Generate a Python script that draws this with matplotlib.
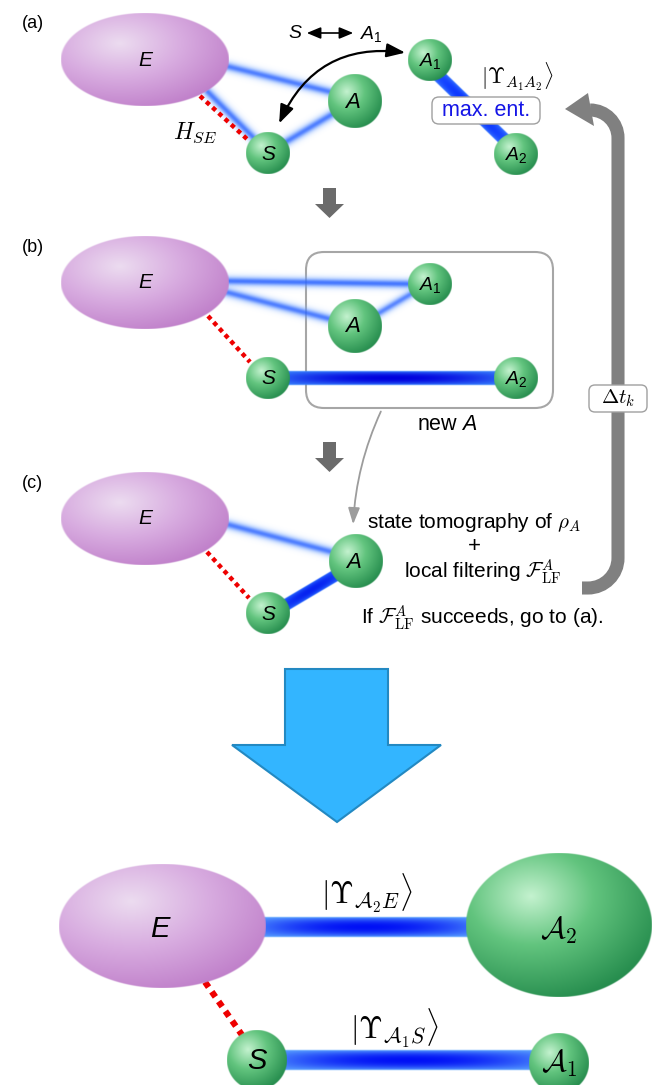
import numpy as np
import matplotlib
matplotlib.use("Agg")
import matplotlib.pyplot as plt
from matplotlib.patches import Polygon, FancyBboxPatch, FancyArrowPatch, PathPatch
from matplotlib.path import Path
from matplotlib.colors import to_rgb

# ---------------- content ----------------
panel_labels = ["(a)", "(b)", "(c)"]
panel_label_y = [23, 248, 483]
env_label = "E"
sys_label = "S"
anc_label = "A"
swap_text = ("S", r"$A_{\mathit{1}}$")
state_a = r"$|\Upsilon_{A_1A_2}\rangle$"
maxent_text = "max. ent."
hse_text = r"$H_{SE}$"
newA_text = r"new $A$"
dt_text = r"$\Delta t_k$"
tomo_lines = [r"state tomography of $\rho_A$", "+",
              r"local filtering $\mathcal{F}_{\rm LF}^{A}$"]
cond_text = r"If $\mathcal{F}_{\rm LF}^{A}$ succeeds, go to (a)."
final_states = [r"$|\Upsilon_{\mathcal{A}_2E}\rangle$", r"$|\Upsilon_{\mathcal{A}_1S}\rangle$"]
final_nodes = [r"$\mathcal{A}_2$", r"$\mathcal{A}_1$"]

# node layout (pixel coordinates, y downwards)
E_centers = [(145, 60), (145, 283), (145, 519)]
S_centers = [(268, 153), (268, 378), (268, 613)]
A_centers = [(355, 101), (355, 326), (356, 561)]
A1_centers = [(430, 60), (430, 284)]
A2_centers = [(516, 154), (516, 378)]

W, H = 652, 1085
plt.rcParams["font.family"] = ["Liberation Sans", "DejaVu Sans"]
plt.rcParams["mathtext.fontset"] = "custom"
plt.rcParams["mathtext.it"] = "Liberation Sans:italic"
plt.rcParams["mathtext.rm"] = "Liberation Sans"
plt.rcParams["mathtext.bf"] = "Liberation Sans:bold"

fig = plt.figure(figsize=(W / 100, H / 100), dpi=100)
ax = fig.add_axes([0, 0, 1, 1])

GREEN = [(0.0, "#c4f2cf"), (0.45, "#62c47e"), (1.0, "#258c4d")]
PURPLE = [(0.0, "#ecdcf0"), (0.5, "#d8ace0"), (1.0, "#c080ca")]


def shade(cx, cy, rx, ry, stops, z=4, hl=(-0.3, -0.35)):
    res = 3
    nx = max(int(2 * rx * res), 8)
    ny = max(int(2 * ry * res), 8)
    xs = cx - rx + (np.arange(nx) + 0.5) * (2 * rx / nx)
    ys = cy - ry + (np.arange(ny) + 0.5) * (2 * ry / ny)
    X, Y = np.meshgrid(xs, ys)
    u = (X - cx) / rx
    v = (Y - cy) / ry
    r = np.hypot(u, v)
    d = np.hypot(u - hl[0], v - hl[1]) / (1 + np.hypot(*hl))
    pos = [s[0] for s in stops]
    cols = np.array([to_rgb(s[1]) for s in stops])
    rgb = np.stack([np.interp(d, pos, cols[:, i]) for i in range(3)], -1)
    a = np.clip((1 - r) * min(rx, ry) + 0.5, 0, 1)
    img = np.concatenate([rgb, a[..., None]], -1)
    ax.imshow(img, extent=(cx - rx, cx + rx, cy + ry, cy - ry), origin="upper",
              interpolation="bilinear", aspect="auto", zorder=z)


def band(p0, p1, w, light, dark, soft=False, amax=1.0, z=2, along=0.65):
    res = 2
    pad = w + 3
    x0, y0 = p0
    x1, y1 = p1
    xmin, xmax = min(x0, x1) - pad, max(x0, x1) + pad
    ymin, ymax = min(y0, y1) - pad, max(y0, y1) + pad
    nx = int((xmax - xmin) * res)
    ny = int((ymax - ymin) * res)
    xs = xmin + (np.arange(nx) + 0.5) / res
    ys = ymin + (np.arange(ny) + 0.5) / res
    X, Y = np.meshgrid(xs, ys)
    dx, dy = x1 - x0, y1 - y0
    L2 = dx * dx + dy * dy
    t = ((X - x0) * dx + (Y - y0) * dy) / L2
    tc = np.clip(t, 0, 1)
    d = np.hypot(X - (x0 + tc * dx), Y - (y0 + tc * dy))
    hw = w / 2
    light = np.array(to_rgb(light))
    dark = np.array(to_rgb(dark))
    if soft:
        a = amax * np.exp(-(d / hw) ** 2 * 1.1)
        k = np.exp(-(d / hw) ** 2 * 2.5)
    else:
        a = np.clip((hw - d) / 1.0 + 0.5, 0, 1) * amax
        across = np.clip(1 - (d / hw) ** 2, 0, 1)
        k = across ** 0.8 * ((1 - along) + along * (1 - (2 * tc - 1) ** 2))
    rgb = light[None, None, :] * (1 - k[..., None]) + dark[None, None, :] * k[..., None]
    img = np.concatenate([rgb, a[..., None]], -1)
    ax.imshow(img, extent=(xmin, xmax, ymax, ymin), origin="upper",
              interpolation="bilinear", aspect="auto", zorder=z)


def red_dots(p0, p1, lw=3.2):
    ax.plot([p0[0], p1[0]], [p0[1], p1[1]], color="#ee0000", lw=lw,
            linestyle=(0, (1, 0.9)), solid_capstyle="butt", dash_capstyle="butt", zorder=3)


SOFT_L, SOFT_D = "#80b0ff", "#3068ff"

# ---------------- panel (a) ----------------
band((226, 66), (335, 93), 11, SOFT_L, SOFT_D, soft=True, amax=0.85)
band((208, 92), (255, 139), 11, SOFT_L, SOFT_D, soft=True, amax=0.85)
band((284, 143), (336, 112), 11, SOFT_L, SOFT_D, soft=True, amax=0.85)
band((437, 74), (506, 141), 13, "#3a78ff", "#0a34ff", along=0.4)
red_dots((200, 96), (247, 139))

# ---------------- panel (b) ----------------
band((226, 281), (414, 284), 11, SOFT_L, SOFT_D, soft=True, amax=0.9)
band((226, 292), (334, 320), 11, SOFT_L, SOFT_D, soft=True, amax=0.85)
band((374, 316), (416, 291), 10, SOFT_L, SOFT_D, soft=True, amax=0.8)
band((286, 378), (498, 378), 14, "#3d8bff", "#0000dd")
red_dots((208, 316), (250, 362))
ax.add_patch(FancyBboxPatch((306, 252), 247, 156, boxstyle="round,pad=0,rounding_size=18",
                            fc="none", ec="#a6a6a6", lw=1.5, zorder=1))

# ---------------- panel (c) ----------------
band((226, 524), (336, 553), 11, SOFT_L, SOFT_D, soft=True, amax=0.85)
band((284, 606), (338, 574), 12, "#2d6cff", "#0522f0", along=0.4)
red_dots((207, 552), (249, 598))

# ellipses and spheres for panels
for (cx, cy) in E_centers:
    shade(cx, cy, 84, 46.5, PURPLE)
    ax.text(cx, cy, env_label, style="italic", fontsize=15, ha="center", va="center", zorder=6)
for (cx, cy) in S_centers:
    shade(cx, cy, 22, 21, GREEN)
    ax.text(cx, cy + 1, sys_label, style="italic", fontsize=15, ha="center", va="center", zorder=6)
for (cx, cy) in A_centers:
    shade(cx, cy, 27, 27, GREEN)
    ax.text(cx - 2, cy + 1, anc_label, style="italic", fontsize=16, ha="center", va="center", zorder=6)
for (cx, cy) in A1_centers:
    shade(cx, cy, 22, 21, GREEN)
    ax.text(cx, cy + 1, r"$A_{\mathit{1}}$", fontsize=14, ha="center", va="center", zorder=6)
for (cx, cy) in A2_centers:
    shade(cx, cy, 22, 21, GREEN)
    ax.text(cx, cy + 1, r"$A_{\mathit{2}}$", fontsize=14, ha="center", va="center", zorder=6)

# panel labels
for lab, y in zip(panel_labels, panel_label_y):
    ax.text(22, y, lab, fontsize=13, ha="left", va="center", zorder=6)

# texts of (a)
ax.text(195, 133, hse_text, fontsize=17, ha="center", va="center", math_fontfamily="cm", zorder=6)
ax.text(517, 77, state_a, fontsize=16, ha="center", va="center", math_fontfamily="cm", zorder=6)
ax.add_patch(FancyBboxPatch((432, 97), 108, 27, boxstyle="round,pad=0,rounding_size=7",
                            fc="white", ec="#a0a0a0", lw=1.0, zorder=5))
ax.text(486, 110.5, maxent_text, fontsize=15.5, color="#1515e6", ha="center", va="center", zorder=6)
ax.text(295, 33, swap_text[0], style="italic", fontsize=14, ha="center", va="center", zorder=6)
ax.add_patch(FancyArrowPatch((304, 33), (356, 33), arrowstyle="<|-|>,head_length=0.6,head_width=0.25",
                             mutation_scale=14, color="black", lw=1.2, zorder=6))
ax.text(371, 34, swap_text[1], fontsize=14, ha="center", va="center", zorder=6)
ax.add_patch(FancyArrowPatch((278, 126), (408, 53), connectionstyle="arc3,rad=-0.38",
                             arrowstyle="<|-|>,head_length=0.8,head_width=0.3",
                             mutation_scale=14, color="black", lw=1.6, zorder=6))

# gray step arrows
for top in (188, 442):
    ax.add_patch(Polygon([(323, top), (336, top), (336, top + 16), (344, top + 16), (329.5, top + 30),
                          (315, top + 16), (323, top + 16)], closed=True, fc="#6b6b6b", ec="none",
                         zorder=5))

# (b) texts and connector
ax.text(447, 424, newA_text, fontsize=15.5, ha="center", va="center", zorder=6)
ax.add_patch(FancyArrowPatch((382, 409), (353, 527), connectionstyle="arc3,rad=0.1",
                             arrowstyle="-|>,head_length=0.7,head_width=0.25", mutation_scale=14,
                             color="#9c9c9c", lw=1.3, zorder=6))

# (c) texts
ax.text(474, 523, tomo_lines[0], fontsize=15, ha="center", va="center", math_fontfamily="cm", zorder=6)
ax.text(474, 547, tomo_lines[1], fontsize=16, ha="center", va="center", zorder=6)
ax.text(483, 572, tomo_lines[2], fontsize=15, ha="center", va="center", math_fontfamily="cm", zorder=6)
ax.text(482, 618, cond_text, fontsize=15, ha="center", va="center", math_fontfamily="cm", zorder=6)

# big loop arrow on the right
k = 0.5523
verts = [(582, 588), (588, 588), (588 + k * 30, 588), (618, 558 + k * 30), (618, 558),
         (618, 138), (618, 138 - k * 28), (590 + k * 28, 110), (590, 110)]
codes = [Path.MOVETO, Path.LINETO, Path.CURVE4, Path.CURVE4, Path.CURVE4,
         Path.LINETO, Path.CURVE4, Path.CURVE4, Path.CURVE4]
ax.add_patch(PathPatch(Path(verts, codes), fc="none", ec="#808080", lw=9.4, capstyle="butt", zorder=4))
ax.add_patch(Polygon([(565, 109), (588, 93), (594, 126)], closed=True, fc="#808080", ec="none", zorder=4))
ax.add_patch(FancyBboxPatch((589, 385), 58, 27, boxstyle="round,pad=0,rounding_size=6",
                            fc="white", ec="#a0a0a0", lw=1.0, zorder=5))
ax.text(618, 398, dt_text, fontsize=15, ha="center", va="center", math_fontfamily="cm", zorder=6)

# big blue arrow
ax.add_patch(Polygon([(285, 669), (388, 669), (388, 745), (441, 745), (337, 822), (232, 745), (285, 745)],
                     closed=True, fc="#33b5ff", ec="#2389c2", lw=1.5, zorder=5))

# ---------------- final state ----------------
band((262, 927), (472, 927), 20, "#5ea8ff", "#0010f5")
band((283, 1060), (534, 1060), 20, "#5ea8ff", "#0010f5")
red_dots((205, 982), (242, 1035), lw=4.5)
shade(162, 926, 103.5, 62, PURPLE, hl=(-0.3, -0.4))
ax.text(160, 929, env_label, style="italic", fontsize=21, ha="center", va="center", zorder=6)
shade(559, 925, 93, 72, GREEN, hl=(-0.3, -0.4))
ax.text(559, 930, final_nodes[0], fontsize=22, ha="center", va="center", math_fontfamily="cm", zorder=6)
shade(257, 1060, 30, 30, GREEN)
ax.text(257, 1061, sys_label, style="italic", fontsize=21, ha="center", va="center", zorder=6)
shade(559, 1063, 30, 30, GREEN)
ax.text(559, 1063, final_nodes[1], fontsize=22, ha="center", va="center", math_fontfamily="cm", zorder=6)
ax.text(367, 893, final_states[0], fontsize=22, ha="center", va="center", math_fontfamily="cm", zorder=6)
ax.text(394, 1028, final_states[1], fontsize=22, ha="center", va="center", math_fontfamily="cm", zorder=6)

ax.set_xlim(0, W)
ax.set_ylim(H, 0)
ax.axis("off")
fig.savefig("out.png", dpi=100)
